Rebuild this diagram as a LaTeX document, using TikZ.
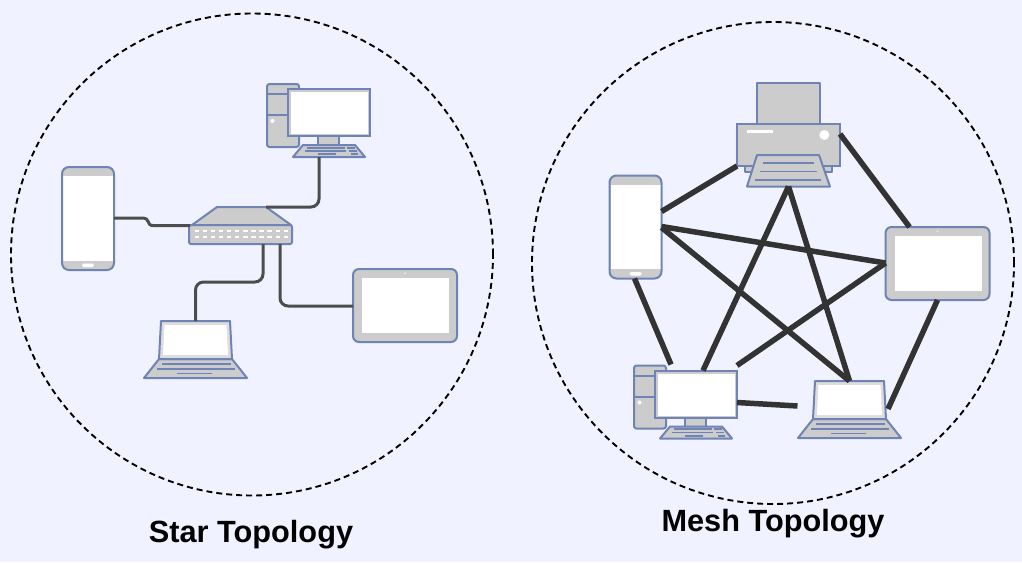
\documentclass[tikz,border=0pt]{standalone}
\usepackage{fontspec}
\setmainfont{Liberation Sans}
\definecolor{bgc}{HTML}{F0F3FF}
\definecolor{devg}{HTML}{CCCCCC}
\definecolor{devb}{HTML}{6F84B5}
\definecolor{lapedge}{HTML}{DDDDDD}
\definecolor{thinw}{HTML}{4D4D4D}
\definecolor{thickw}{HTML}{333333}
\tikzset{
  x=1pt,y=-1pt,
  ln/.style={draw=devb,line width=2pt,line join=round},
  gbody/.style={ln,fill=devg},
  devbody/.style={rectangle,draw=devb,line width=2pt,inner sep=0pt,outer sep=0pt},
  keyline/.style={draw=devb,line width=1.8pt},
  zone/.style={draw=black,line width=1.9pt,dash pattern=on 6pt off 4pt},
  starwire/.style={draw=thinw,line width=3pt,rounded corners=8pt},
  meshwire/.style={draw=thickw,line width=5.5pt},
  title/.style={font=\bfseries\fontsize{30.7}{36}\selectfont,inner sep=0pt},
  desktop/.pic={
    \begin{scope}[shift={(-267,-84)}]
      \path[gbody,rounded corners=2.5pt] (267,84) rectangle (299,147);
      \draw[ln] (267,94) -- (299,94) (267,115) -- (299,115);
      \fill[white] (272.5,121) circle (2);
      \path[gbody] (318,136) rectangle (339,145.5);
      \path[gbody] (303,145) -- (355,145) -- (365,157) -- (293,157) -- cycle;
      \draw[keyline] (307,147.8)--(345,147.8) (347,147.8)--(355,147.8)
                     (305,151)--(346,151) (349,151)--(357,151)
                     (318,154.2)--(336,154.2) (351,154.2)--(358,154.2);
      \node[devbody,fill=devg,minimum width=82pt,minimum height=47pt] (-body) at (329,112.5) {};
      \fill[white] (290.5,92) rectangle (367.5,134);
    \end{scope}
  },
  phone/.pic={
    \fill[devg,rounded corners=7pt] (0,0) rectangle (52,103);
    \fill[white] (1,9) rectangle (51,93.5);
    \fill[white,rounded corners=1.5pt] (20,96.5) rectangle (32,100);
    \node[devbody,rounded corners=7pt,minimum width=52pt,minimum height=103pt] (-body) at (26,51.5) {};
  },
  tablet/.pic={
    \node[devbody,fill=devg,rounded corners=6pt,minimum width=104pt,minimum height=73pt] (-body) at (52,36.5) {};
    \fill[white] (9,9) rectangle (96,64);
    \fill[white!85!devg] (52,4.5) circle (0.8);
  },
  laptop/.pic={
    \begin{scope}[shift={(-144,-321)}]
      \path[gbody] (159,359) -- (232,359) -- (247,378) -- (144,378) -- cycle;
      \draw[ln,fill=lapedge] (161,321) -- (230,321) -- (232,359) -- (159,359) -- cycle;
      \fill[white] (164.5,325) -- (226.5,325) -- (228,355) -- (163,355) -- cycle;
      \draw[keyline] (162,364)--(231,364) (157,369)--(235,369) (177,373.5)--(212,373.5);
      \coordinate (-top) at (195.5,321);
    \end{scope}
    \node[inner sep=0pt,outer sep=0pt,minimum width=70pt,minimum height=38pt] (-body) at (51.5,19) {};
  },
  hub/.pic={
    \begin{scope}[shift={(-189,-207)}]
      \path[gbody] (217,207) -- (266,207) -- (291,225) -- (192,225) -- cycle;
      \node[devbody,fill=devg,rounded corners=2pt,minimum width=103pt,minimum height=19pt] (-body) at (240.5,234.5) {};
      \draw[ln] (192,225) -- (291,225);
      \foreach \i in {0,...,11} {
        \fill[white] (194.5+8.1*\i,230) rectangle +(4.4,2.2);
        \fill[white] (194.5+8.1*\i,236) rectangle +(4.4,2.2);
      }
      \coordinate (-top) at (266,207);
    \end{scope}
  },
  printer/.pic={
    \begin{scope}[shift={(-737,-83)}]
      \path[gbody] (757,83) rectangle (820,124);
      \path[gbody] (745,160) rectangle (832,172);
      \node[devbody,fill=devg,minimum width=103pt,minimum height=42pt] (-body) at (788.5,145) {};
      \fill[white] (747,129.8) rectangle (773,132.5);
      \fill[white] (824.3,135) circle (5);
      \path[gbody] (757,155) -- (819,155) -- (830,186.5) -- (747,186.5) -- cycle;
      \draw[keyline] (763,163.3)--(814,163.3) (760,171.5)--(817,171.5) (755,179.7)--(821,179.7);
      \coordinate (-tray) at (788.5,186.5);
    \end{scope}
  },
}
\begin{document}
\begin{tikzpicture}
\useasboundingbox (0,0) rectangle (1022,562);
\fill[bgc] (0,0) rectangle (1022,562);

% zones
\node[zone,circle,minimum size=482pt,inner sep=0pt] (starzone) at (252,254.5) {};
\node[zone,circle,minimum size=482pt,inner sep=0pt] (meshzone) at (773,263) {};
\node[title] (startitle) at (251,535) {Star Topology};
\node[title] (meshtitle) at (773,523.5) {Mesh Topology};

% star topology
\pic (s-desk) at (267,84) {desktop};
\pic (s-phone) at (62,167) {phone};
\pic (s-tablet) at (353,269) {tablet};
\pic (s-lap) at (144,321) {laptop};
\pic (s-hub) at (189,207) {hub};

\draw[draw=thinw,line width=3pt] ([yshift=-51pt]s-phone-body.north east) -- ++(28,0) .. controls +(9,0) and +(-7,0) .. ++(11,7.5) -- ([xshift=1pt,yshift=-0.5pt]s-hub-body.north west);
\draw[starwire] ([xshift=-10pt,yshift=-21pt]s-desk-body.south) coordinate (sdp) -- (sdp |- s-hub-top) -- (s-hub-top);
\draw[starwire] (s-lap-top) -- ++(0,-39) -- ++(67.5,0) -- ([xshift=22.5pt]s-hub-body.south);
\draw[starwire] ([xshift=39.5pt]s-hub-body.south) |- ([yshift=-37pt]s-tablet-body.north west);

% mesh topology
\pic (m-printer) at (737,83) {printer};
\pic (m-phone) at (609.5,175.5) {phone};
\pic (m-tablet) at (885.5,227) {tablet};
\pic (m-desk) at (634,365.5) {desktop};
\pic (m-lap) at (798,381) {laptop};

\draw[meshwire] ([yshift=-36pt]m-phone-body.north east) -- ([yshift=-42pt]m-printer-body.north west);
\draw[meshwire] ([yshift=-10pt]m-printer-body.north east) -- ([xshift=24pt]m-tablet-body.north west);
\draw[meshwire] ([yshift=-51pt]m-phone-body.north east) -- ([yshift=-36pt]m-tablet-body.north west);
\draw[meshwire] ([yshift=-52pt]m-phone-body.north east) -- (m-lap-top);
\draw[meshwire] (m-printer-tray) -- ([xshift=48pt]m-desk-body.north west);
\draw[meshwire] (m-printer-tray) -- (m-lap-top);
\draw[meshwire] ([yshift=-36pt]m-tablet-body.north west) -- ([yshift=5pt]m-desk-body.north east);
\draw[meshwire] ([xshift=52pt,yshift=-73pt]m-tablet-body.north west) -- ([xshift=38.5pt,yshift=-28pt]m-lap-top);
\draw[meshwire] ([xshift=25pt,yshift=-103pt]m-phone-body.north west) -- ([xshift=16pt,yshift=6pt]m-desk-body.north west);
\draw[meshwire] ([yshift=-32pt]m-desk-body.north east) -- ([yshift=-25pt,xshift=-52pt]m-lap-top);
\end{tikzpicture}
\end{document}
